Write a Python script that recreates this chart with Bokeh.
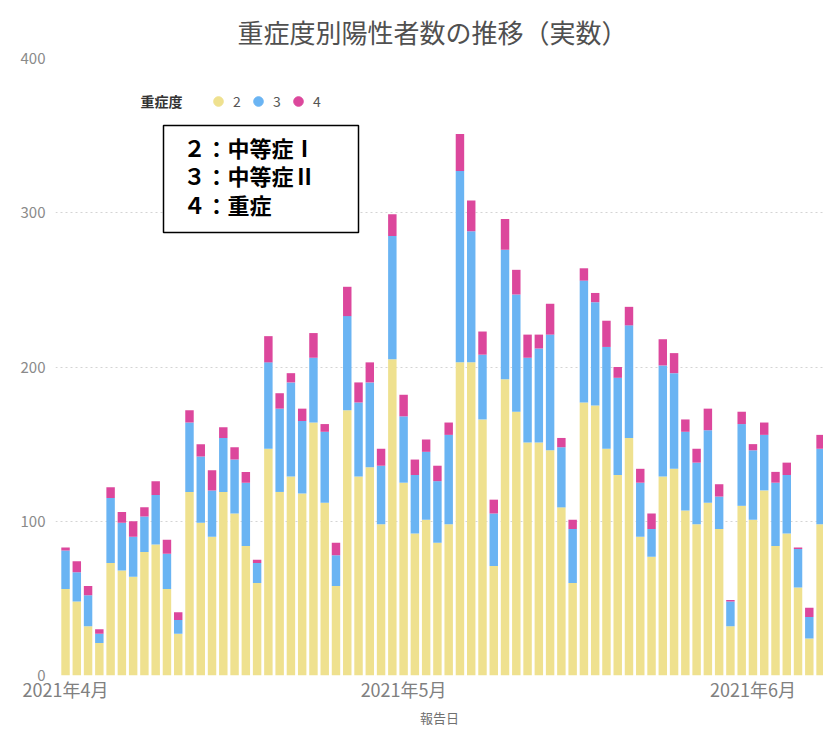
import pandas as pd
from bokeh.plotting import figure
from bokeh.models import (ColumnDataSource, Label, BoxAnnotation, Legend, LegendItem,
                          FixedTicker, DatetimeTickFormatter, Range1d)
from bokeh.embed import file_html
from bokeh.resources import INLINE

# ---------------- data ----------------
start_date = "2021-04-01"
dates = pd.date_range(start_date, periods=68, freq="D")

grade2 = [56, 48, 32, 21, 73, 68, 64, 80, 85, 56,
          27, 119, 99, 90, 119, 105, 84, 60, 147, 119,
          129, 118, 164, 112, 58, 172, 129, 135, 98, 205,
          125, 92, 101, 86, 98, 203, 203, 166, 71, 192,
          171, 151, 151, 146, 109, 60, 177, 175, 147, 130,
          154, 90, 77, 129, 134, 107, 98, 112, 95, 32,
          110, 101, 120, 84, 92, 57, 24, 98]
grade3 = [25, 19, 20, 6, 42, 31, 26, 23, 32, 23,
          9, 45, 43, 30, 35, 35, 41, 13, 56, 54,
          61, 47, 42, 46, 20, 61, 48, 55, 38, 80,
          43, 38, 44, 40, 58, 124, 85, 42, 34, 84,
          76, 55, 61, 75, 39, 35, 79, 67, 66, 63,
          73, 35, 18, 72, 62, 51, 40, 47, 21, 16,
          53, 45, 36, 41, 38, 25, 14, 49]
grade4 = [2, 7, 6, 3, 7, 7, 10, 6, 9, 9,
          5, 8, 8, 13, 7, 8, 7, 2, 17, 10,
          6, 8, 16, 5, 8, 19, 13, 13, 11, 14,
          14, 10, 8, 10, 8, 24, 20, 15, 9, 20,
          16, 15, 9, 20, 6, 6, 8, 6, 17, 7,
          12, 9, 10, 17, 13, 8, 9, 14, 8, 1,
          8, 4, 8, 7, 8, 1, 6, 9]

series_keys = ["g2", "g3", "g4"]
legend_labels = ["2", "3", "4"]
colors = ["#EFE18F", "#6AB4F3", "#DC479C"]

month_ticks = ["2021-04-01", "2021-05-01", "2021-06-01"]
month_labels = ["2021年4月", "2021年5月", "2021年6月"]
y_ticks = [0, 100, 200, 300, 400]

title_text = "重症度別陽性者数の推移（実数）"
x_title = "報告日"
legend_title = "重症度"
note_lines = ["２：中等症Ⅰ", "３：中等症Ⅱ", "４：重症"]

FONT = "Noto Sans CJK JP"

source = ColumnDataSource(dict(date=dates, g2=grade2, g3=grade3, g4=grade4))

day = pd.Timedelta(days=1)
t0 = pd.Timestamp(start_date)

p = figure(width=823, height=729, x_axis_type="datetime",
           x_range=Range1d(t0 - 0.89 * day, t0 + 67.26 * day),
           y_range=Range1d(0, 400),
           output_backend="svg", toolbar_location=None,
           min_border_left=55, min_border_right=0, min_border_top=58, min_border_bottom=54)
p.outline_line_color = None
p.background_fill_color = "white"
p.border_fill_color = "white"

# title
p.title.text = title_text
p.title.align = "left"
p.title.offset = 182
p.title.standoff = 18
p.title.text_font = FONT
p.title.text_font_size = "26px"
p.title.text_font_style = "normal"
p.title.text_color = "#505050"

p.vbar_stack(series_keys, x="date", width=0.75 * 86400000, color=colors,
             line_color=None, source=source)

# axes
tick_ms = [int(pd.Timestamp(t).value // 10**6) for t in month_ticks]
p.xaxis.ticker = FixedTicker(ticks=tick_ms)
p.xaxis.formatter = DatetimeTickFormatter(days="%Y年%-m月", months="%Y年%-m月", years="%Y年%-m月")
p.xaxis.major_label_overrides = {k: v for k, v in zip(tick_ms, month_labels)}
p.xaxis.axis_line_color = None
p.xaxis.major_tick_line_color = None
p.xaxis.minor_tick_line_color = None
p.xaxis.major_tick_out = 0
p.xaxis.minor_tick_out = 0
p.xaxis.major_label_text_font = FONT
p.xaxis.major_label_text_font_size = "18px"
p.xaxis.major_label_text_color = "#808080"
p.xaxis.major_label_standoff = 0
p.xaxis.axis_label = x_title
p.xaxis.axis_label_text_font = FONT
p.xaxis.axis_label_text_font_size = "13px"
p.xaxis.axis_label_text_font_style = "normal"
p.xaxis.axis_label_text_color = "#707070"
p.xaxis.axis_label_standoff = 3

p.yaxis.ticker = FixedTicker(ticks=y_ticks)
p.yaxis.axis_line_color = None
p.yaxis.major_tick_line_color = None
p.yaxis.minor_tick_line_color = None
p.yaxis.major_tick_out = 0
p.yaxis.minor_tick_out = 0
p.yaxis.major_label_text_font = FONT
p.yaxis.major_label_text_font_size = "15px"
p.yaxis.major_label_text_color = "#8a8a8a"
p.yaxis.major_label_standoff = 10

p.xgrid.grid_line_color = None
p.ygrid.grid_line_color = "#d4d4d4"
p.ygrid.grid_line_dash = "2 3"
p.ygrid.grid_line_width = 1

# legend (hidden helper renderers give the circle swatches)
swatches = [p.scatter(x="date", y=k, marker="circle", size=10, color=c, source=source, visible=False)
            for k, c in zip(series_keys, colors)]
legend = Legend(items=[LegendItem(label=l, renderers=[r]) for l, r in zip(legend_labels, swatches)],
                orientation="horizontal", location=(151, 561),
                glyph_width=24, glyph_height=26, label_standoff=3, spacing=5, label_width=8,
                padding=0, margin=0, border_line_color=None, background_fill_alpha=0,
                inactive_fill_alpha=0,
                label_text_font=FONT, label_text_font_size="14px", label_text_color="#555555")
p.add_layout(legend)
p.add_layout(Label(x=106, y=575, x_units="screen", y_units="screen", text=legend_title,
                   text_align="center", text_baseline="middle", text_font=FONT,
                   text_font_size="14px", text_font_style="bold", text_color="#333333"))

# note box
p.add_layout(BoxAnnotation(left=108, right=303, top=550, bottom=443,
                           left_units="screen", right_units="screen",
                           top_units="screen", bottom_units="screen",
                           fill_color="white", fill_alpha=1.0,
                           line_color="black", line_alpha=1.0, line_width=1.5))
for i, line in enumerate(note_lines):
    p.add_layout(Label(x=128, y=529 - 28.5 * i, x_units="screen", y_units="screen", text=line,
                       text_align="left", text_baseline="middle", text_font=FONT,
                       text_font_size="22px", text_font_style="bold", text_color="black"))

open("out.html", "w").write(file_html(p, INLINE))
